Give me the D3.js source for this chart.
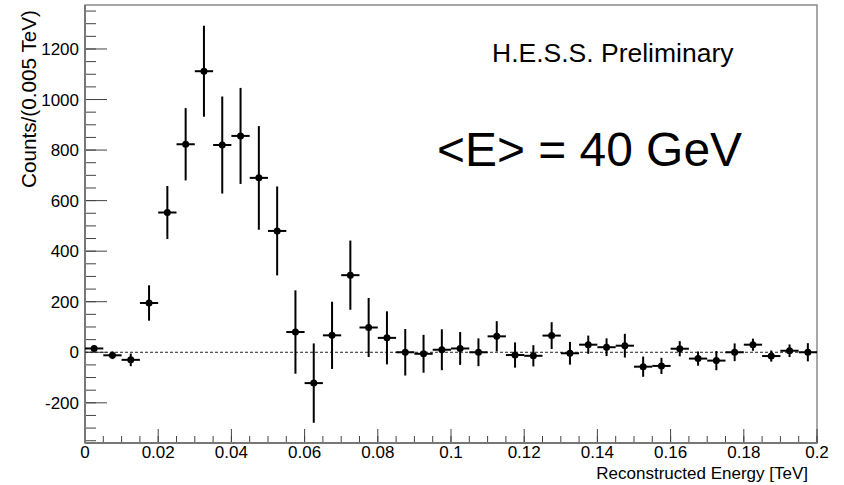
<!DOCTYPE html>
<html>
<head>
<meta charset="utf-8">
<script src="https://cdn.jsdelivr.net/npm/d3@7"></script>
<style>
  body { margin: 0; background: #fff; }
  svg { display: block; font-family: "Liberation Sans", Arial, sans-serif; }
</style>
</head>
<body>
<svg id="chart" width="844" height="485"></svg>
<script>
// bin centres (TeV), bin width 0.005
var binCenters = [0.0025, 0.0075, 0.0125, 0.0175, 0.0225, 0.0275, 0.0325, 0.0375, 0.0425, 0.0475,
                  0.0525, 0.0575, 0.0625, 0.0675, 0.0725, 0.0775, 0.0825, 0.0875, 0.0925, 0.0975,
                  0.1025, 0.1075, 0.1125, 0.1175, 0.1225, 0.1275, 0.1325, 0.1375, 0.1425, 0.1475,
                  0.1525, 0.1575, 0.1625, 0.1675, 0.1725, 0.1775, 0.1825, 0.1875, 0.1925, 0.1975];
var counts = [15, -12, -30, 195, 553, 823, 1112, 820, 856, 690,
              480, 80, -122, 67, 305, 98, 57, 0, -6, 10,
              15, 0, 63, -11, -14, 66, -4, 30, 20, 26,
              -57, -54, 14, -25, -33, 0, 30, -15, 6, 0];
var errors = [10, 15, 25, 70, 105, 143, 180, 192, 190, 205,
              176, 165, 157, 133, 137, 117, 105, 92, 75, 81,
              65, 55, 60, 50, 42, 53, 45, 36, 35, 47,
              40, 32, 30, 28, 38, 35, 24, 22, 25, 36];
var halfWidth = 0.0025;
var xTicks = [0, 0.02, 0.04, 0.06, 0.08, 0.1, 0.12, 0.14, 0.16, 0.18, 0.2];
var yTicks = [-200, 0, 200, 400, 600, 800, 1000, 1200];

var margin = {top: 5, right: 27, bottom: 42, left: 85},
    width = 844 - margin.left - margin.right,
    height = 485 - margin.top - margin.bottom;

var svg = d3.select("#chart");
var g = svg.append("g").attr("transform", "translate(" + margin.left + "," + margin.top + ")");

var x = d3.scaleLinear().domain([0, 0.2]).range([0, width]);
var y = d3.scaleLinear().domain([-359, 1374]).range([height, 0]);

// frame
g.append("rect")
  .attr("x", 0).attr("y", 0)
  .attr("width", width).attr("height", height)
  .attr("fill", "none").attr("stroke", "#8a8a8a").attr("stroke-width", 1.5);

// minor + major ticks, drawn inward like ROOT
var xMinor = d3.range(0, 41).map(function (i) { return i * 0.005; });
var yMinor = d3.range(-7, 28).map(function (i) { return i * 50; });

g.selectAll(".xminor").data(xMinor).enter().append("line")
  .attr("x1", function (d) { return x(d); }).attr("x2", function (d) { return x(d); })
  .attr("y1", height).attr("y2", height - 7)
  .attr("stroke", "#444").attr("stroke-width", 1);
g.selectAll(".xmajor").data(xTicks).enter().append("line")
  .attr("x1", function (d) { return x(d); }).attr("x2", function (d) { return x(d); })
  .attr("y1", height).attr("y2", height - 14)
  .attr("stroke", "#444").attr("stroke-width", 1);

g.selectAll(".yminor").data(yMinor.filter(function (d) { return y(d) >= 0 && y(d) <= height; }))
  .enter().append("line")
  .attr("x1", 0).attr("x2", 11)
  .attr("y1", function (d) { return y(d); }).attr("y2", function (d) { return y(d); })
  .attr("stroke", "#444").attr("stroke-width", 1);
g.selectAll(".ymajor").data(yTicks).enter().append("line")
  .attr("x1", 0).attr("x2", 22)
  .attr("y1", function (d) { return y(d); }).attr("y2", function (d) { return y(d); })
  .attr("stroke", "#444").attr("stroke-width", 1);

// axis lines
g.append("line").attr("x1", 0).attr("x2", width).attr("y1", height).attr("y2", height)
  .attr("stroke", "#777").attr("stroke-width", 2);
g.append("line").attr("x1", 0).attr("x2", 0).attr("y1", 0).attr("y2", height)
  .attr("stroke", "#777").attr("stroke-width", 2);

// tick labels
var fmtX = function (d) { return d === 0 ? "0" : d3.format("~g")(d); };
g.selectAll(".xlab").data(xTicks).enter().append("text")
  .attr("x", function (d) { return x(d); }).attr("y", height + 15)
  .attr("text-anchor", "middle").attr("font-size", 17).attr("fill", "#000")
  .text(fmtX);
g.selectAll(".ylab").data(yTicks).enter().append("text")
  .attr("x", -6).attr("y", function (d) { return y(d) + 6; })
  .attr("text-anchor", "end").attr("font-size", 17).attr("fill", "#000")
  .text(function (d) { return d; });

// axis titles
svg.append("text")
  .attr("x", 808).attr("y", 479)
  .attr("text-anchor", "end").attr("font-size", 17)
  .text("Reconstructed Energy [TeV]");
svg.append("text")
  .attr("transform", "translate(36,10) rotate(-90)")
  .attr("text-anchor", "end").attr("font-size", 19.5)
  .attr("textLength", 178).attr("lengthAdjust", "spacingAndGlyphs")
  .text("Counts/(0.005 TeV)");

// zero line
g.append("line")
  .attr("x1", 0).attr("x2", width).attr("y1", y(0)).attr("y2", y(0))
  .attr("stroke", "#222").attr("stroke-width", 1).attr("stroke-dasharray", "3,2");

// error bars and markers
var pts = g.selectAll(".pt").data(binCenters).enter().append("g");
pts.append("line")
  .attr("x1", function (d) { return x(d - halfWidth); })
  .attr("x2", function (d) { return x(d + halfWidth); })
  .attr("y1", function (d, i) { return y(counts[i]); })
  .attr("y2", function (d, i) { return y(counts[i]); })
  .attr("stroke", "#000").attr("stroke-width", 2);
pts.append("line")
  .attr("x1", function (d) { return x(d); }).attr("x2", function (d) { return x(d); })
  .attr("y1", function (d, i) { return y(counts[i] + errors[i]); })
  .attr("y2", function (d, i) { return y(counts[i] - errors[i]); })
  .attr("stroke", "#000").attr("stroke-width", 2);
pts.append("circle")
  .attr("cx", function (d) { return x(d); })
  .attr("cy", function (d, i) { return y(counts[i]); })
  .attr("r", 3.5).attr("fill", "#000");

// annotations
svg.append("text")
  .attr("x", 492).attr("y", 62)
  .attr("font-size", 26.5).text("H.E.S.S. Preliminary");
svg.append("text")
  .attr("x", 437).attr("y", 166)
  .attr("font-size", 48).attr("textLength", 305).attr("lengthAdjust", "spacingAndGlyphs")
  .text("<E> = 40 GeV");
</script>
</body>
</html>
